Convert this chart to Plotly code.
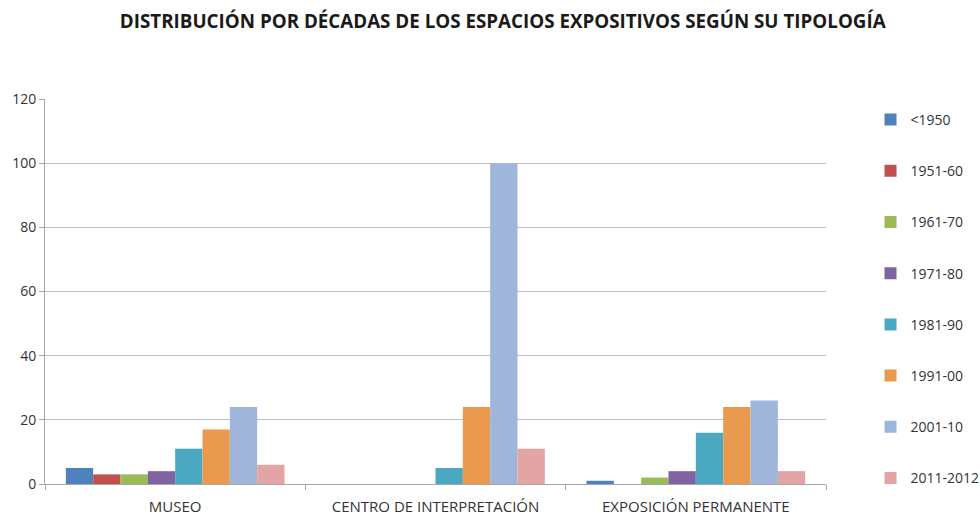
import plotly.graph_objects as go

categories = ["MUSEO", "CENTRO DE INTERPRETACIÓN", "EXPOSICIÓN PERMANENTE"]
decades = ["<1950", "1951-60", "1961-70", "1971-80", "1981-90", "1991-00", "2001-10", "2011-2012"]
values = {
    "<1950":     [5, 0, 1],
    "1951-60":   [3, 0, 0],
    "1961-70":   [3, 0, 2],
    "1971-80":   [4, 0, 4],
    "1981-90":   [11, 5, 16],
    "1991-00":   [17, 24, 24],
    "2001-10":   [24, 100, 26],
    "2011-2012": [6, 11, 4],
}
colors = ["#4F81BD", "#C0504D", "#9BBB59", "#8064A2", "#4AA8C0", "#EA9A4E", "#9FB5DA", "#E2A4A4"]

fig = go.Figure()
for name, col in zip(decades, colors):
    fig.add_trace(go.Bar(
        x=categories, y=values[name], name=name,
        marker=dict(color=col, line=dict(width=0)),
        legendgroup=name,
    ))

fig.update_layout(
    width=980, height=515,
    paper_bgcolor="white", plot_bgcolor="white",
    margin=dict(l=45, r=154, t=99, b=31, autoexpand=False),
    barmode="group", bargap=0.16, bargroupgap=0,
    font=dict(family="Open Sans, Lato, sans-serif", size=13, color="#333333"),
    title=dict(
        text="<b>DISTRIBUCIÓN POR DÉCADAS DE LOS ESPACIOS EXPOSITIVOS SEGÚN SU TIPOLOGÍA</b>",
        x=0.513, xref="container", y=0.972, yref="container", xanchor="center",
        font=dict(size=18.8, color="#1A1A1A"),
    ),
    legend=dict(
        xref="paper", yref="paper", x=1.057, y=0.987, xanchor="left", yanchor="top",
        font=dict(size=14, color="#333333"),
        tracegroupgap=30, itemwidth=30, maxheight=500,
    ),
    showlegend=True,
)
fig.update_xaxes(
    showline=True, linecolor="#A6A6A6", linewidth=1,
    ticks="outside", tickson="boundaries", ticklen=5, tickcolor="#A6A6A6",
    tickfont=dict(size=15, color="#333333"), ticklabelstandoff=9,
)
fig.update_yaxes(
    range=[0, 120], dtick=20,
    showgrid=True, gridcolor="#BFBFBF", gridwidth=1,
    showline=True, linecolor="#A6A6A6", linewidth=1,
    ticks="outside", ticklen=5, tickcolor="#A6A6A6",
    zeroline=False,
    tickfont=dict(size=14, color="#333333"),
)

fig.write_html("out.html")
